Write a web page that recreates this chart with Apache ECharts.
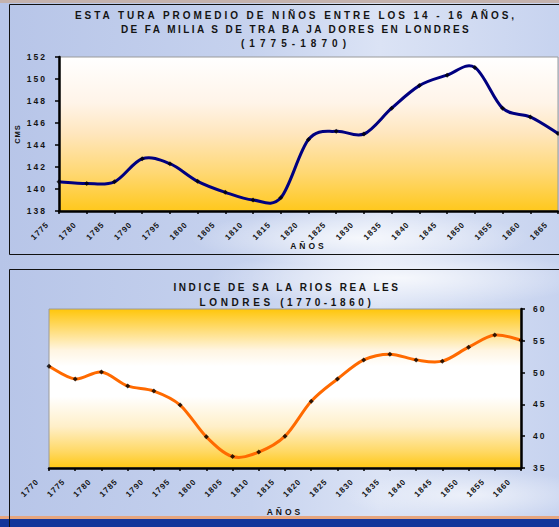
<!DOCTYPE html>
<html><head><meta charset="utf-8">
<script src="https://cdn.jsdelivr.net/npm/echarts@6/dist/echarts.min.js"></script>
<style>html,body{margin:0;padding:0;background:#bac8e9;}#c{width:559px;height:527px;}</style>
</head><body><div id="c"></div>
<script>
// ---- data ----
const heightYears = ['1775','1780','1785','1790','1795','1800','1805','1810','1815','1820','1825','1830','1835','1840','1845','1850','1855','1860','1865'];
const heightCm = [140.65,140.5,140.65,142.75,142.3,140.7,139.7,139.0,139.2,144.5,145.25,145.0,147.35,149.4,150.35,151.05,147.35,146.55,145.05];
const heightAxis = {min:138, max:152, interval:2};
const wageYears = ['1770','1775','1780','1785','1790','1795','1800','1805','1810','1815','1820','1825','1830','1835','1840','1845','1850','1855','1860'];
const wageIndex = [51.0,49.0,50.1,47.9,47.1,44.9,39.9,36.8,37.5,40.0,45.5,49.0,52.0,52.9,52.0,51.8,54.0,55.9,55.1];
const wageAxis = {min:35, max:60, interval:5};
const titleHeight = 'ESTA TURA PROMEDIO DE NIÑOS ENTRE LOS 14 - 16 AÑOS,\nDE FA MILIA S DE TRA BA JA DORES EN LONDRES\n(1775-1870)';
const titleWage = 'INDICE DE SA LA RIOS REA LES\nLONDRES (1770-1860)';
const xName = 'AÑOS';
const yNameTop = 'CMS';

// ---- styling ----
const FONT = "'Liberation Sans', Arial, sans-serif";
const TXT = '#141414';
const lg = (stops) => ({type:'linear', x:0, y:0, x2:0, y2:1, colorStops: stops.map(s => ({offset:s[0], color:s[1]}))});
const gradTop = lg([[0,'#ffffff'],[0.3,'#fff4e8'],[0.5,'#ffe6bd'],[0.75,'#ffd874'],[1,'#ffc81c']]);
const gradBottom = lg([[0,'#ffc60a'],[0.12,'#ffdb6e'],[0.26,'#fff5e2'],[0.36,'#ffffff'],[0.55,'#ffffff'],[0.74,'#ffefc8'],[0.9,'#ffd862'],[1,'#ffc814']]);

function xAxisCfg(gi, data, gap) {
  return {
    gridIndex: gi, type: 'category', data: data, boundaryGap: false,
    axisLine: {show: true, lineStyle: {color: '#000', width: 2.5}},
    axisTick: {show: true, interval: 0, length: 3, lineStyle: {color: '#000', width: 1.5}},
    axisLabel: {interval: 0, rotate: 45, margin: 1, padding: [0, 16, 0, 0], fontSize: 8, fontWeight: 'bold', color: TXT, fontFamily: FONT},
    splitLine: {show: false},
    name: xName, nameLocation: 'middle', nameGap: gap,
    nameTextStyle: {fontSize: 8.5, fontWeight: 'bold', color: TXT, fontFamily: FONT}
  };
}
function yAxisCfg(gi, ax, pos, margin) {
  return {
    gridIndex: gi, type: 'value', position: pos, min: ax.min, max: ax.max, interval: ax.interval,
    axisLine: {show: true, lineStyle: {color: '#000', width: 2.5}},
    axisTick: {show: true, length: 4, lineStyle: {color: '#000', width: 1.5}},
    axisLabel: {margin: margin, fontSize: 8.5, fontWeight: 'bold', color: TXT, fontFamily: FONT},
    splitLine: {show: false}
  };
}
// Excel-like smoothed line (Catmull-Rom through the data points, positions from the axes)
function smoothLine(gi, values, color, width) {
  return {
    type: 'custom', xAxisIndex: gi, yAxisIndex: gi, clip: true, silent: true, z: 4,
    data: values.map((v, i) => [i, v]),
    encode: {x: 0, y: 1},
    renderItem: function (params, api) {
      if (params.dataIndex !== 0) return null;
      const p = values.map((v, i) => api.coord([i, v]));
      const n = p.length;
      let d = 'M' + p[0][0] + ',' + p[0][1];
      for (let i = 0; i < n - 1; i++) {
        const p0 = p[Math.max(0, i - 1)], p1 = p[i], p2 = p[i + 1], p3 = p[Math.min(n - 1, i + 2)];
        const c1x = p1[0] + (p2[0] - p0[0]) / 6, c1y = p1[1] + (p2[1] - p0[1]) / 6;
        const c2x = p2[0] - (p3[0] - p1[0]) / 6, c2y = p2[1] - (p3[1] - p1[1]) / 6;
        d += ' C' + c1x + ',' + c1y + ' ' + c2x + ',' + c2y + ' ' + p2[0] + ',' + p2[1];
      }
      return {type: 'path', shape: {pathData: d},
              style: {fill: 'none', stroke: color, lineWidth: width, lineJoin: 'round', lineCap: 'round'}};
    }
  };
}
function markers(gi, values) {
  return {type: 'scatter', xAxisIndex: gi, yAxisIndex: gi, data: values, symbol: 'diamond', symbolSize: 5,
          itemStyle: {color: '#000'}, z: 6, silent: true};
}

const chart = echarts.init(document.getElementById('c'), null, {renderer: 'svg'});
const yTop = yAxisCfg(0, heightAxis, 'left', 12);
yTop.name = yNameTop; yTop.nameLocation = 'middle'; yTop.nameRotate = 90; yTop.nameGap = 38;
yTop.nameTextStyle = {fontSize: 7.5, fontWeight: 'bold', color: TXT, fontFamily: FONT};

chart.setOption({
  animation: false,
  backgroundColor: {type:'linear', x:0, y:0, x2:1, y2:0, colorStops:[
    {offset:0, color:'#b7c5e8'},{offset:0.45, color:'#c6d2ee'},{offset:0.68, color:'#dbe3f5'},{offset:1, color:'#c7d3ef'}]},
  textStyle: {fontFamily: FONT},
  graphic: [
    {type:'ellipse', z:-5, shape:{cx:360, cy:238, rx:170, ry:28}, style:{fill:{type:'radial', x:0.5, y:0.5, r:0.5, colorStops:[{offset:0,color:'rgba(255,255,255,0.75)'},{offset:1,color:'rgba(255,255,255,0)'}]}}},
    {type:'ellipse', z:-5, shape:{cx:400, cy:278, rx:190, ry:30}, style:{fill:{type:'radial', x:0.5, y:0.5, r:0.5, colorStops:[{offset:0,color:'rgba(255,255,255,0.75)'},{offset:1,color:'rgba(255,255,255,0)'}]}}},
    {type:'ellipse', z:-5, shape:{cx:470, cy:495, rx:130, ry:25}, style:{fill:{type:'radial', x:0.5, y:0.5, r:0.5, colorStops:[{offset:0,color:'rgba(255,255,255,0.6)'},{offset:1,color:'rgba(255,255,255,0)'}]}}},
    {type:'rect', z:-4, shape:{x:0, y:0, width:559, height:3}, style:{fill:'#c4b2ad'}},
    {type:'rect', z:10, shape:{x:9.5, y:4.5, width:600, height:250}, style:{fill:'none', stroke:'#111', lineWidth:1}},
    {type:'rect', z:-4, shape:{x:0, y:516, width:559, height:3}, style:{fill:'#e6a57e'}},
    {type:'rect', z:-4, shape:{x:0, y:519, width:559, height:8}, style:{fill:'#13359a'}},
    {type:'rect', z:10, shape:{x:9.5, y:269.5, width:600, height:300}, style:{fill:'none', stroke:'#111', lineWidth:1}}
  ],
  title: [
    {text: titleHeight, left: 296, top: 8, textAlign: 'center', padding: 0,
     textStyle: {fontSize: 10, fontWeight: 'bold', color: TXT, lineHeight: 14, fontFamily: FONT}},
    {text: titleWage, left: 287, top: 280, textAlign: 'center', padding: 0,
     textStyle: {fontSize: 10, fontWeight: 'bold', color: TXT, lineHeight: 15, fontFamily: FONT}}
  ],
  grid: [
    {left: 59, right: 1, top: 57, bottom: 316, show: true, backgroundColor: gradTop, borderColor: '#9a9a9a', borderWidth: 1, outerBoundsMode: 'none', containLabel: false},
    {left: 49, right: 38, top: 309, bottom: 59, show: true, backgroundColor: gradBottom, borderColor: '#9a9a9a', borderWidth: 1, outerBoundsMode: 'none', containLabel: false}
  ],
  xAxis: [xAxisCfg(0, heightYears, 28), xAxisCfg(1, wageYears, 39)],
  yAxis: [yTop, yAxisCfg(1, wageAxis, 'right', 12)],
  series: [
    smoothLine(0, heightCm, '#000080', 3),
    markers(0, heightCm),
    smoothLine(1, wageIndex, '#ff6a00', 3),
    markers(1, wageIndex)
  ]
});

// letter spacing like the original rendering
const targetWidths = {
  'ESTA TURA PROMEDIO DE NIÑOS ENTRE LOS 14 - 16 AÑOS,': 442,
  'DE FA MILIA S DE TRA BA JA DORES EN LONDRES': 350,
  '(1775-1870)': 110,
  'INDICE DE SA LA RIOS REA LES': 227,
  'LONDRES (1770-1860)': 175
};
function applySpacing() {
  document.querySelectorAll('#c svg text').forEach(t => {
    const s = t.textContent;
    let ls = null;
    if (targetWidths[s] != null) {
      t.style.letterSpacing = '0px';
      const w = t.getComputedTextLength();
      ls = Math.max(0, (targetWidths[s] - w) / s.length);
    } else if (/^\d{4}$/.test(s)) ls = 1;
    else if (/^\d{2,3}$/.test(s)) ls = 2;
    else if (s === xName) ls = 3;
    else if (s === yNameTop) ls = 1;
    if (ls != null) t.style.letterSpacing = ls.toFixed(2) + 'px';
  });
}
applySpacing();
chart.on('finished', applySpacing);
</script>
</body></html>
